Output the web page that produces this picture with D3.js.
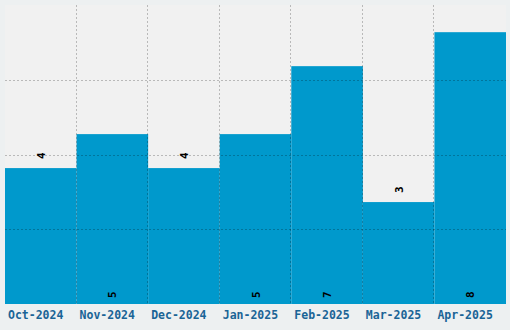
<!DOCTYPE html>
<html lang="en">
<head>
<meta charset="UTF-8">
<title>Monthly counts</title>
<script src="https://cdn.jsdelivr.net/npm/d3@7"></script>
<style>
    body { margin: 0; background: #edf0f1; }
    .tick-label { font-family: "DejaVu Sans Mono", monospace; font-weight: bold; font-size: 11.5px; fill: #1a6496; }
    .value-label { font-family: "DejaVu Sans Mono", monospace; font-weight: bold; font-size: 11px; fill: #000; }
</style>
</head>
<body>
<svg width="510" height="330"></svg>
<script>
    var months = ["Oct-2024", "Nov-2024", "Dec-2024", "Jan-2025", "Feb-2025", "Mar-2025", "Apr-2025"];
    var counts = [4, 5, 4, 5, 7, 3, 8];

    var svg = d3.select("svg");
    var margin = {top: 5, right: 4, bottom: 26, left: 5};
    var width = +svg.attr("width") - margin.left - margin.right;
    var height = +svg.attr("height") - margin.top - margin.bottom;

    var x = d3.scaleBand().domain(months).range([0, width]).padding(0);
    var y = d3.scaleLinear().domain([0, d3.max(counts) * 1.1]).range([height, 0]);

    var g = svg.append("g")
        .attr("transform", "translate(" + margin.left + "," + margin.top + ")");

    g.append("rect")
        .attr("width", width)
        .attr("height", height)
        .attr("fill", "#f1f1f1");

    var data = months.map(function (m, i) { return {month: m, value: counts[i]}; });

    g.selectAll(".bar")
        .data(data)
        .enter().append("rect")
        .attr("class", "bar")
        .attr("x", function (d) { return x(d.month); })
        .attr("y", function (d) { return y(d.value); })
        .attr("width", x.bandwidth())
        .attr("height", function (d) { return height - y(d.value); })
        .attr("fill", "#0099cc");

    // grid on top of bars, quarters of the plot height
    var grid = g.append("g")
        .attr("stroke", "rgba(0,0,0,0.23)")
        .attr("stroke-width", 1)
        .attr("stroke-dasharray", "2,2");

    [1, 2, 3].forEach(function (k) {
        var yy = Math.round(height * k / 4) + 0.5;
        grid.append("line").attr("x1", 0).attr("x2", width).attr("y1", yy).attr("y2", yy);
    });
    months.slice(1).forEach(function (m) {
        var xx = Math.round(x(m)) - 0.5;
        grid.append("line").attr("x1", xx).attr("x2", xx).attr("y1", 0).attr("y2", height);
    });

    // month labels, left aligned in each band
    g.selectAll(".tick-label")
        .data(months)
        .enter().append("text")
        .attr("class", "tick-label")
        .attr("x", function (d) { return x(d) + 3; })
        .attr("y", height + 15)
        .text(function (d) { return d; });

    // value labels, rotated; big bars get them at the base, small ones above the bar
    g.selectAll(".value-label")
        .data(data)
        .enter().append("text")
        .attr("class", "value-label")
        .attr("transform", function (d) {
            var cx = x(d.month) + x.bandwidth() / 2 + 4;
            var cy = d.value >= 5 ? height - 6 : y(d.value) - 9;
            return "translate(" + cx + "," + cy + ") rotate(-90)";
        })
        .attr("text-anchor", "start")
        .text(function (d) { return d.value; });
</script>
</body>
</html>
